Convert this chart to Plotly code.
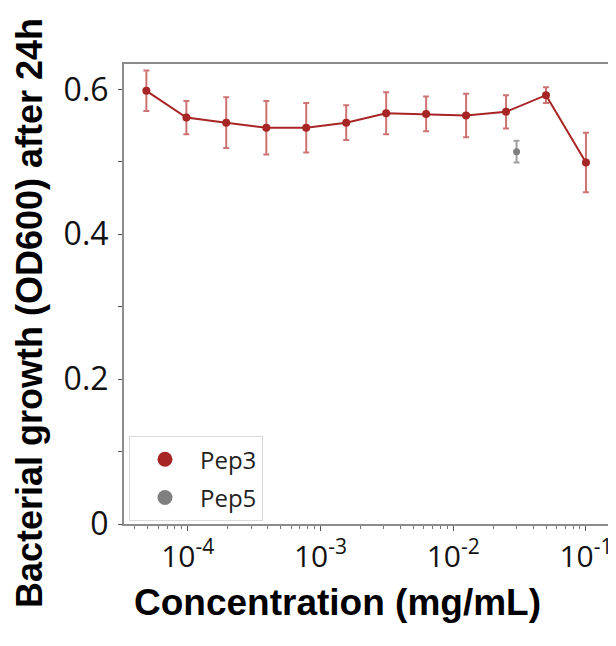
import plotly.graph_objects as go

# Data
conc_pep3 = [4.88e-5, 9.77e-5, 1.95e-4, 3.91e-4, 7.81e-4, 1.5625e-3,
             3.125e-3, 6.25e-3, 1.25e-2, 2.5e-2, 5e-2, 1e-1]
od_pep3 = [0.598, 0.561, 0.554, 0.547, 0.547, 0.554,
           0.567, 0.566, 0.564, 0.569, 0.592, 0.499]
err_pep3 = [0.028, 0.023, 0.035, 0.037, 0.034, 0.024,
            0.029, 0.024, 0.030, 0.023, 0.011, 0.041]

conc_pep5 = [0.03]
od_pep5 = [0.514]
err_pep5 = [0.015]

series_names = ["Pep3", "Pep5"]
y_tick_vals = [0, 0.2, 0.4, 0.6]
x_tick_vals = [1e-4, 1e-3, 1e-2, 1e-1]
x_tick_text = ["10<sup>-4</sup>", "10<sup>-3</sup>", "10<sup>-2</sup>", "10<sup>-1</sup>"]

RED = "#a82525"
RED_ERR = "rgba(178,40,40,0.65)"
GRAY = "#7f7f7f"
GRAY_ERR = "rgba(120,120,120,0.7)"

fig = go.Figure()

fig.add_trace(go.Scatter(
    x=conc_pep3, y=od_pep3, mode="lines+markers", name=series_names[0],
    showlegend=False,
    line=dict(color=RED, width=2),
    marker=dict(color=RED, size=8),
    error_y=dict(type="data", array=err_pep3, visible=True,
                 color=RED_ERR, thickness=2, width=3),
))
fig.add_trace(go.Scatter(
    x=conc_pep5, y=od_pep5, mode="markers", name=series_names[1],
    showlegend=False,
    marker=dict(color=GRAY, size=7),
    error_y=dict(type="data", array=err_pep5, visible=True,
                 color=GRAY_ERR, thickness=2, width=3),
))
# legend entries (marker only, larger symbols as in the reference)
fig.add_trace(go.Scatter(x=[None], y=[None], mode="markers", name=series_names[0],
                         legendgroup="a", marker=dict(color=RED, size=15)))
fig.add_trace(go.Scatter(x=[None], y=[None], mode="markers", name=series_names[1],
                         legendgroup="b", marker=dict(color=GRAY, size=15)))

AXCOL = "#8c8c8c"
fig.update_layout(
    width=608, height=630,
    margin=dict(l=116, r=8, t=56, b=114, autoexpand=False),
    paper_bgcolor="white", plot_bgcolor="white",
    showlegend=True,
    legend=dict(x=0.0103, y=0.191, xanchor="left", yanchor="top",
                bgcolor="white", bordercolor="#d9d9d9", borderwidth=1,
                font=dict(family="Open Sans, sans-serif", size=24, color="#222"),
                itemwidth=60, tracegroupgap=4),
    xaxis=dict(
        type="log", range=[-4.48, -0.834], automargin=False,
        showline=True, mirror=True, linecolor=AXCOL, linewidth=2,
        showgrid=False, zeroline=False,
        ticks="outside", ticklen=5, tickcolor="#555", tickwidth=1,
        tickvals=x_tick_vals, ticktext=x_tick_text, ticklabeloverflow="allow",
        tickfont=dict(family="Open Sans, sans-serif", size=30, color="#111"),
        minor=dict(ticks="outside", ticklen=3, tickcolor="#777", dtick="D1", showgrid=False),
    ),
    yaxis=dict(
        range=[0, 0.635], automargin=False,
        showline=True, mirror=True, linecolor=AXCOL, linewidth=2,
        showgrid=False, zeroline=False,
        tickvals=y_tick_vals, ticklabelstandoff=3,
        ticks="outside", ticklen=4, tickcolor="#555", tickwidth=1,
        tickfont=dict(family="Open Sans, sans-serif", size=32, color="#111"),
        minor=dict(ticks="outside", ticklen=4, tickcolor="#555", dtick=0.1, showgrid=False),
    ),
    annotations=[
        dict(text="<b>Concentration (mg/mL)</b>", xref="paper", yref="paper",
             x=0.441, y=-0.17, xanchor="center", yanchor="middle", showarrow=False,
             font=dict(family="Liberation Sans, Arial, sans-serif", size=37, color="black")),
        dict(text="<b>Bacterial growth (OD600) after 24h</b>", xref="paper", yref="paper",
             x=-0.194, y=0.4587, xanchor="center", yanchor="middle", showarrow=False,
             textangle=-90,
             font=dict(family="Liberation Sans, Arial, sans-serif", size=36, color="black")),
    ],
)

fig.write_html("out.html")
